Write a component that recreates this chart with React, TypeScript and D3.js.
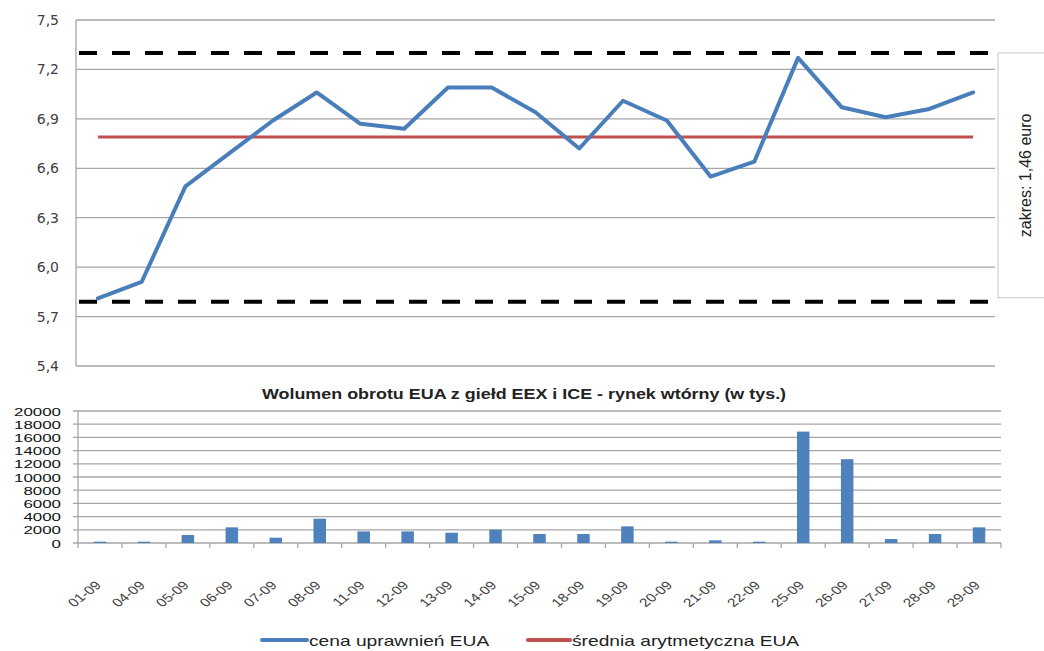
import React, { useEffect, useRef } from 'react';
import * as d3 from 'd3';

const dates = ['01-09', '04-09', '05-09', '06-09', '07-09', '08-09', '11-09', '12-09', '13-09', '14-09', '15-09',
  '18-09', '19-09', '20-09', '21-09', '22-09', '25-09', '26-09', '27-09', '28-09', '29-09'];
const price = [5.81, 5.91, 6.49, 6.69, 6.89, 7.06, 6.87, 6.84, 7.09, 7.09, 6.94,
  6.72, 7.01, 6.89, 6.55, 6.64, 7.27, 6.97, 6.91, 6.96, 7.06];
const volume = [200, 200, 1210, 2370, 800, 3680, 1760, 1760, 1560, 2010, 1360,
  1360, 2520, 200, 400, 200, 16880, 12700, 600, 1360, 2370];
const meanPrice = 6.79;
const upperBand = 7.3;
const lowerBand = 5.79;
const priceTicks = [5.4, 5.7, 6.0, 6.3, 6.6, 6.9, 7.2, 7.5];
const volumeTicks = [0, 2000, 4000, 6000, 8000, 10000, 12000, 14000, 16000, 18000, 20000];
const rangeLabel = 'zakres: 1,46 euro';
const volumeTitle = 'Wolumen obrotu EUA z giełd EEX i ICE - rynek wtórny (w tys.)';
const legendItems = [
  { label: 'cena uprawnień EUA', color: '#4a7ebb' },
  { label: 'średnia arytmetyczna EUA', color: '#c0504d' }
];

const App = () => {
  const svgRef = useRef(null);

  useEffect(() => {
    const svg = d3.select(svgRef.current);
    svg.selectAll('*').remove();
    const grid = '#a6a6a6';
    const text = '#404040';
    const stretch = 1.28; // the original picture is wider than its fonts

    // ---- price chart
    const x = d3.scalePoint().domain(dates).range([76, 995]).padding(0.5);
    const y = d3.scaleLinear().domain([5.4, 7.5]).range([366, 20]);
    const top = svg.append('g');

    top.selectAll('line.grid')
      .data(priceTicks)
      .enter()
      .append('line')
      .attr('x1', 76)
      .attr('x2', 995)
      .attr('y1', d => y(d))
      .attr('y2', d => y(d))
      .attr('stroke', grid)
      .attr('stroke-width', 1.3);

    top.append('line')
      .attr('x1', 76).attr('x2', 76)
      .attr('y1', y(7.5)).attr('y2', y(5.4))
      .attr('stroke', grid).attr('stroke-width', 1.3);

    top.selectAll('text.tick')
      .data(priceTicks)
      .enter()
      .append('text')
      .attr('x', 59)
      .attr('y', d => y(d) + 5)
      .attr('text-anchor', 'end')
      .style('font-family', 'DejaVu Sans')
      .style('font-size', '14px')
      .attr('fill', text)
      .text(d => d3.format('.1f')(d).replace('.', ','));

    [upperBand, lowerBand].forEach(v => {
      top.append('line')
        .attr('x1', 79).attr('x2', 995)
        .attr('y1', y(v)).attr('y2', y(v))
        .attr('stroke', '#000')
        .attr('stroke-width', 4)
        .attr('stroke-dasharray', '18 15');
    });

    top.append('line')
      .attr('x1', x(dates[0])).attr('x2', x(dates[dates.length - 1]))
      .attr('y1', y(meanPrice)).attr('y2', y(meanPrice))
      .attr('stroke', '#c0504d')
      .attr('stroke-width', 3);

    const line = d3.line().x((d, i) => x(dates[i])).y(d => y(d));
    top.append('path')
      .datum(price)
      .attr('d', line)
      .attr('fill', 'none')
      .attr('stroke', '#4a7ebb')
      .attr('stroke-width', 4)
      .attr('stroke-linejoin', 'round')
      .attr('stroke-linecap', 'round');

    // range annotation box
    top.append('rect')
      .attr('x', 998).attr('y', y(upperBand))
      .attr('width', 60).attr('height', y(lowerBand) - y(upperBand) - 4)
      .attr('fill', '#fff')
      .attr('stroke', '#c8c8c8');
    top.append('text')
      .attr('transform', `translate(1031,${(y(upperBand) + y(lowerBand)) / 2 - 2}) rotate(-90)`)
      .attr('text-anchor', 'middle')
      .style('font-family', 'Liberation Sans')
      .style('font-size', '16px')
      .attr('fill', '#222')
      .text(rangeLabel);

    // ---- volume chart
    const xb = d3.scaleBand().domain(dates).range([78, 1001]).padding(0);
    const yv = d3.scaleLinear().domain([0, 20000]).range([543, 411]);
    const bottom = svg.append('g');

    bottom.append('text')
      .attr('transform', `translate(524,399) scale(${stretch},1)`)
      .attr('text-anchor', 'middle')
      .style('font-family', 'Liberation Sans')
      .style('font-weight', 'bold')
      .style('font-size', '14px')
      .attr('fill', '#222')
      .text(volumeTitle);

    bottom.selectAll('line.grid')
      .data(volumeTicks)
      .enter()
      .append('line')
      .attr('x1', 73)
      .attr('x2', 1001)
      .attr('y1', d => yv(d))
      .attr('y2', d => yv(d))
      .attr('stroke', grid)
      .attr('stroke-width', 1.3);

    bottom.append('line')
      .attr('x1', 78).attr('x2', 78)
      .attr('y1', yv(20000)).attr('y2', yv(0))
      .attr('stroke', grid).attr('stroke-width', 1.3);

    bottom.selectAll('line.xtick')
      .data(d3.range(dates.length + 1))
      .enter()
      .append('line')
      .attr('x1', i => 78 + i * xb.step())
      .attr('x2', i => 78 + i * xb.step())
      .attr('y1', yv(0))
      .attr('y2', yv(0) + 5)
      .attr('stroke', grid).attr('stroke-width', 1.3);

    bottom.selectAll('text.tick')
      .data(volumeTicks)
      .enter()
      .append('text')
      .attr('transform', d => `translate(61,${yv(d) + 4.5}) scale(1.47,1)`)
      .attr('text-anchor', 'end')
      .style('font-family', 'Liberation Sans')
      .style('font-size', '11.5px')
      .attr('fill', '#111')
      .text(d => d);

    const barW = 12.5;
    bottom.selectAll('rect.bar')
      .data(volume)
      .enter()
      .append('rect')
      .attr('x', (d, i) => xb(dates[i]) + (xb.bandwidth() - barW) / 2)
      .attr('y', d => yv(d))
      .attr('width', barW)
      .attr('height', d => yv(0) - yv(d))
      .attr('fill', '#4f81bd');

    bottom.selectAll('text.date')
      .data(dates)
      .enter()
      .append('text')
      .attr('transform', d => `translate(${xb(d) + xb.bandwidth() / 2 + 2},${yv(0) + 43}) scale(${stretch},1) rotate(-45)`)
      .attr('text-anchor', 'end')
      .style('font-family', 'Liberation Sans')
      .style('font-size', '12px')
      .attr('fill', text)
      .text(d => d);

    // ---- legend
    const legendX = [262, 528];
    const sampleW = [45, 42];
    legendItems.forEach((item, i) => {
      const g = svg.append('g').attr('transform', `translate(${legendX[i]},640)`);
      g.append('line')
        .attr('x1', 0).attr('x2', sampleW[i])
        .attr('stroke', item.color)
        .attr('stroke-width', 4)
        .attr('stroke-linecap', 'round');
      g.append('text')
        .attr('transform', `translate(${sampleW[i] + 2},5.5) scale(${stretch},1)`)
        .style('font-family', 'Liberation Sans')
        .style('font-size', '15px')
        .attr('fill', '#222')
        .text(item.label);
    });
  }, []);

  return (
    <svg ref={svgRef} width={1044} height={651} style={{ position: 'absolute', left: 0, top: 0, background: '#fff' }}></svg>
  );
};

export default App;
